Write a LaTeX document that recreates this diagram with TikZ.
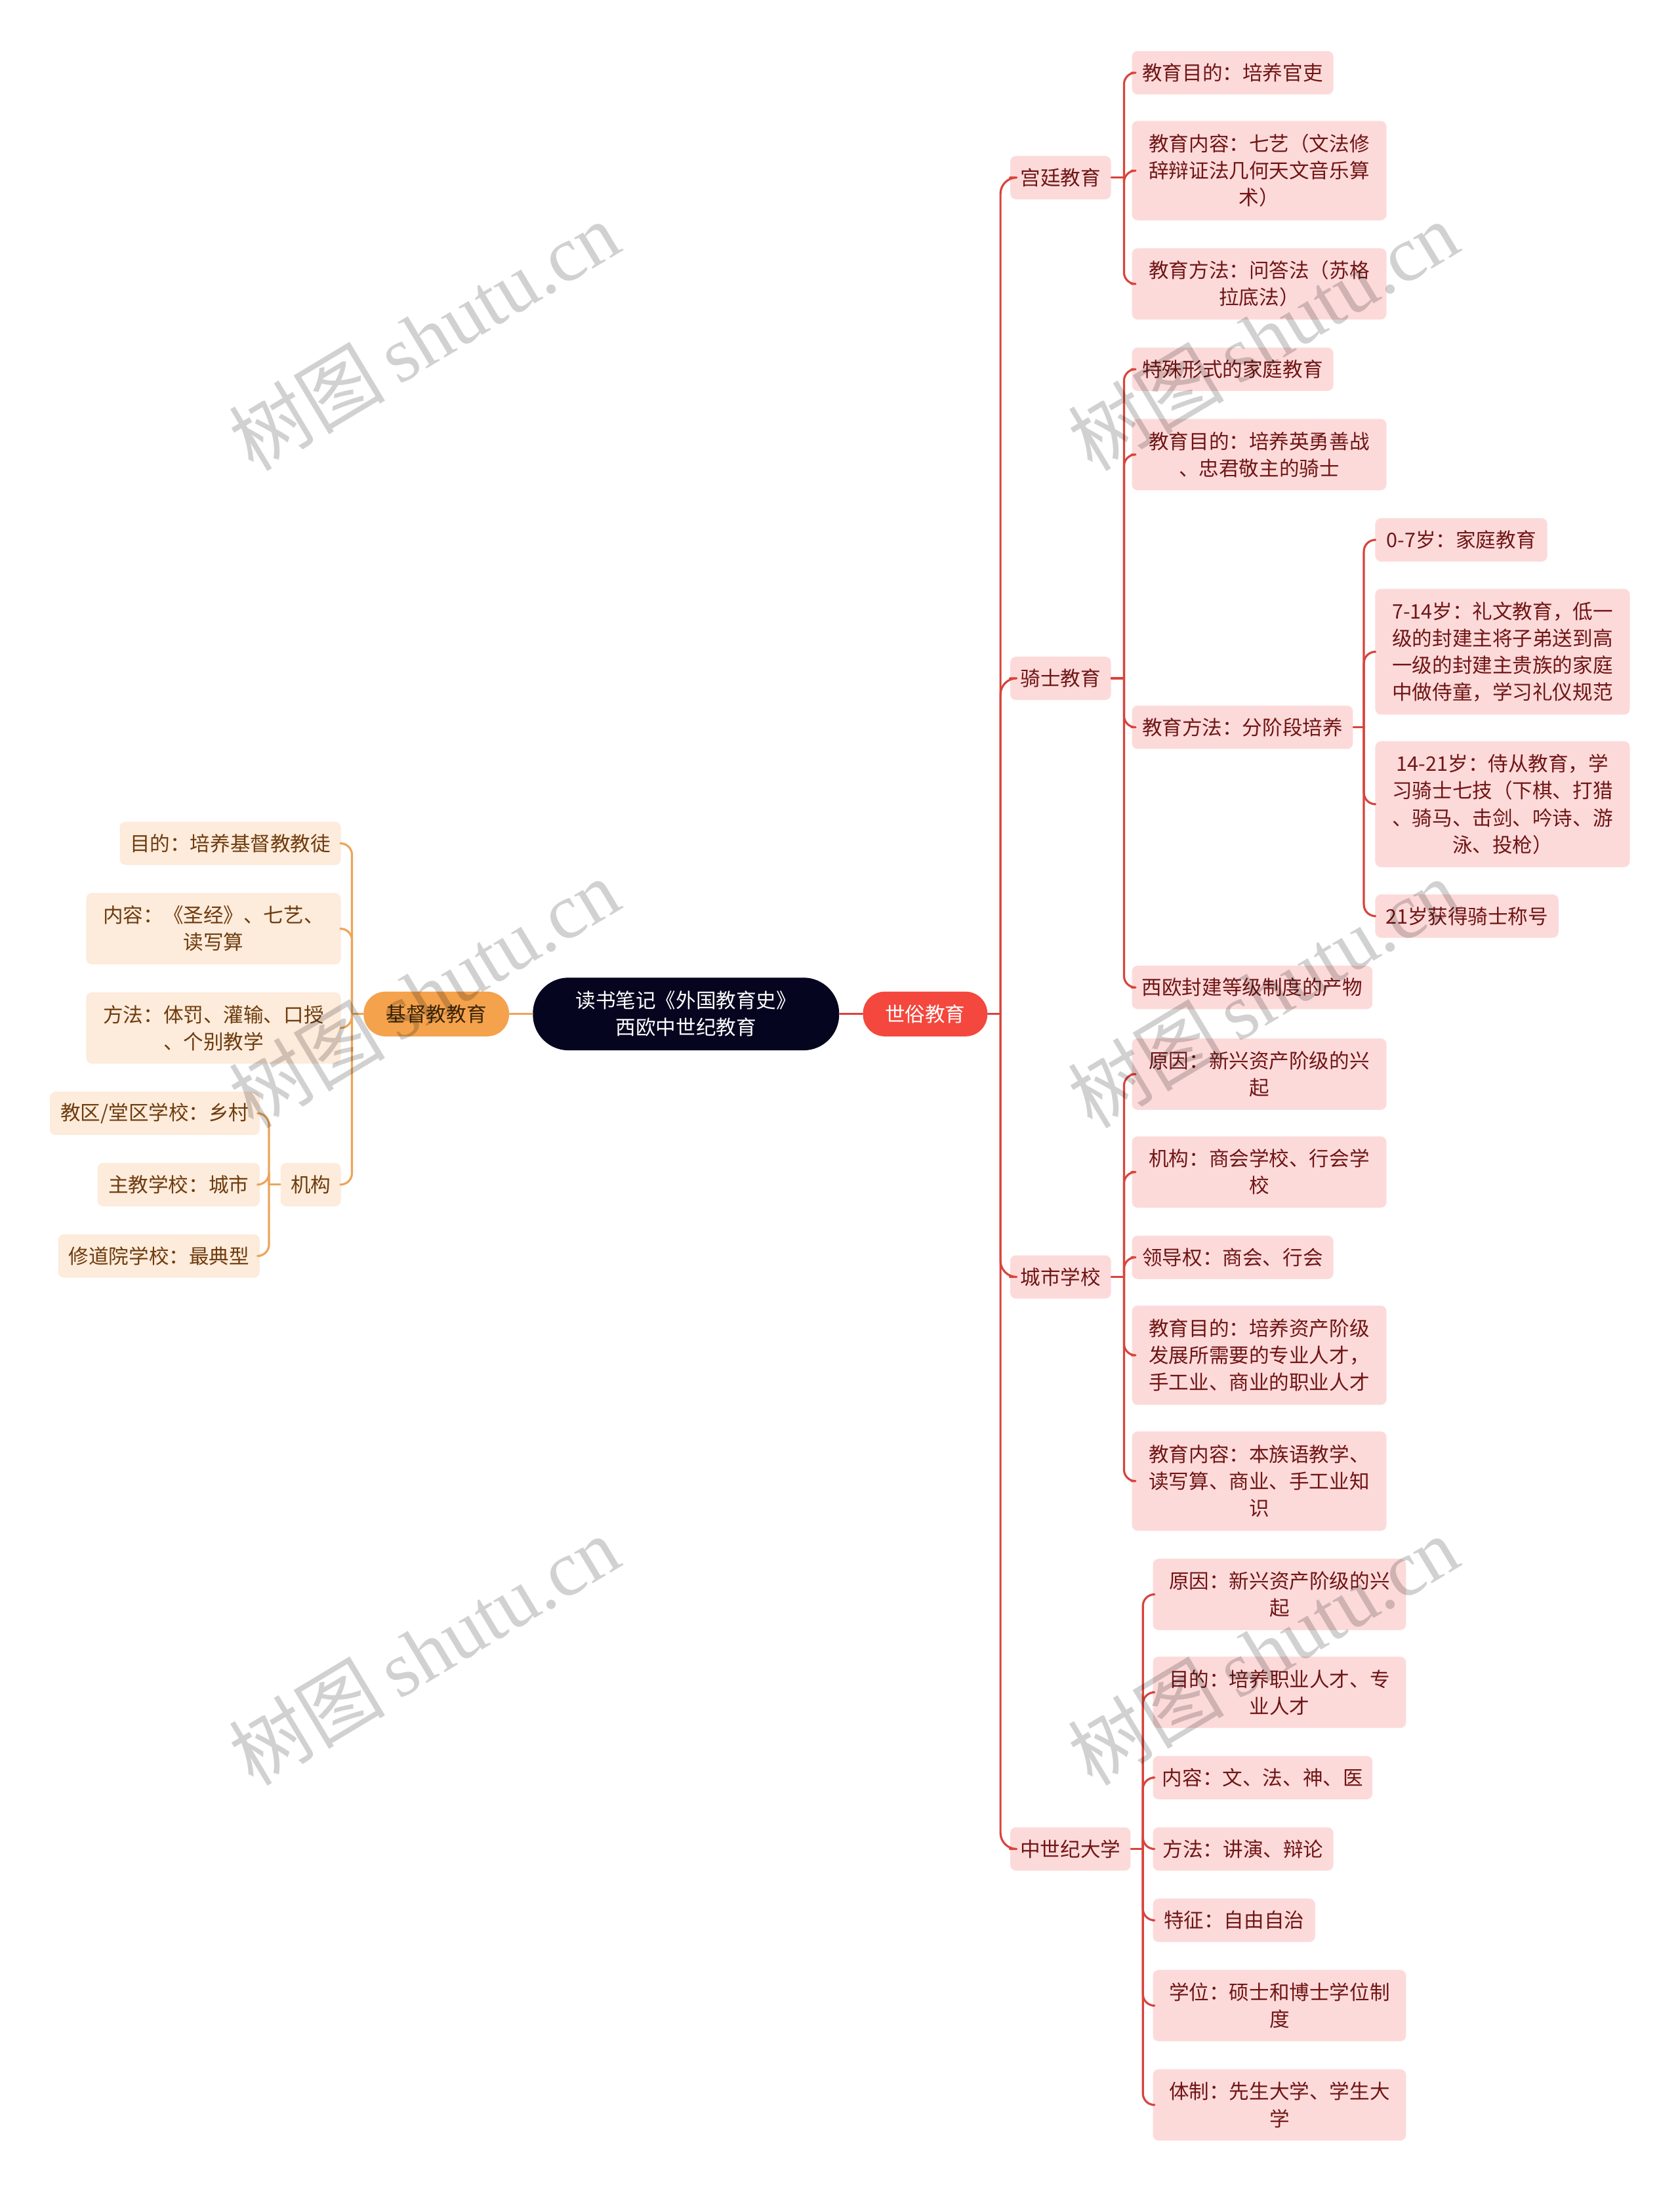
\documentclass[tikz,border=0pt]{standalone}
\usepackage{fontspec}
\setmainfont{Noto Sans CJK SC}
\newfontfamily\wmlatin{Liberation Serif}
\usetikzlibrary{calc}
\definecolor{rootbg}{HTML}{05051F}
\definecolor{secred}{HTML}{F4473D}
\definecolor{linered}{HTML}{D8443C}
\definecolor{leafred}{HTML}{FDDADA}
\definecolor{inkred}{HTML}{701515}
\definecolor{secorange}{HTML}{F4A24C}
\definecolor{inkdark}{HTML}{3B2508}
\definecolor{lineorange}{HTML}{EDA45A}
\definecolor{leafpeach}{HTML}{FDEBDB}
\definecolor{inkbrown}{HTML}{6E3C0E}

\begin{document}
\begin{tikzpicture}[x=0.021316cm,y=-0.021316cm,line cap=round,line join=round,
  font=\fontsize{8.7}{11.7}\selectfont,
  bw/.style={minimum width=#1*0.6065pt},
  bh/.style={minimum height=#1*0.6065pt},
  redleaf/.style={fill=leafred,text=inkred,rounded corners=2.5pt,align=center,inner sep=0pt,anchor=west},
  peachleaf/.style={fill=leafpeach,text=inkbrown,rounded corners=2.5pt,align=center,inner sep=0pt,anchor=east},
  redlink/.style={draw=linered,line width=.9pt,rounded corners=5pt},
  orangelink/.style={draw=lineorange,line width=.9pt,rounded corners=5pt},
  wm/.style={text=black,opacity=.18,rotate=31,font=\fontsize{34}{40}\selectfont}]
  \path[use as bounding box] (0,0) rectangle (1201,1568);
  \fill[white] (0,0) rectangle (1201,1568);
  \clip (0,0) rectangle (1201,1568);

  \node[fill=rootbg,text=white,align=center,inner sep=0pt,bw=219,bh=52,rounded corners=15.5pt] (root) at (490.5,725) {读书笔记《外国教育史》\\西欧中世纪教育};
  \node[fill=secred,text=white,inner sep=0pt,bw=89,bh=32,rounded corners=9.5pt] (sx) at (661.5,725) {世俗教育};
  \node[fill=secorange,text=inkdark,inner sep=0pt,bw=104,bh=32,rounded corners=9.5pt] (jd) at (312,725) {基督教教育};

  % secular branches
  \node[redleaf,bw=72,bh=31] (gt) at (722,127) {宫廷教育};
  \node[redleaf,bw=72,bh=31] (qs) at (722,485) {骑士教育};
  \node[redleaf,bw=72,bh=31] (cs) at (722,913) {城市学校};
  \node[redleaf,bw=86,bh=31] (dx) at (722,1322) {中世纪大学};

  \node[redleaf,bw=144,bh=31] (gt1) at (809,52) {教育目的：培养官吏};
  \node[redleaf,bw=182,bh=71] (gt2) at (809,122) {教育内容：七艺（文法修\\辞辩证法几何天文音乐算\\术）};
  \node[redleaf,bw=182,bh=51] (gt3) at (809,203) {教育方法：问答法（苏格\\拉底法）};

  \node[redleaf,bw=144,bh=31] (qs1) at (809,264) {特殊形式的家庭教育};
  \node[redleaf,bw=182,bh=51] (qs2) at (809,325) {教育目的：培养英勇善战\\、忠君敬主的骑士};
  \node[redleaf,bw=158,bh=31] (qs3) at (809,520) {教育方法：分阶段培养};
  \node[redleaf,bw=172,bh=31] (qs4) at (809,706) {西欧封建等级制度的产物};

  \node[redleaf,bw=123,bh=31] (qf1) at (983,386) {0-7岁：家庭教育};
  \node[redleaf,bw=182,bh=90] (qf2) at (983,466) {7-14岁：礼文教育，低一\\级的封建主将子弟送到高\\一级的封建主贵族的家庭\\中做侍童，学习礼仪规范};
  \node[redleaf,bw=182,bh=90] (qf3) at (983,575) {14-21岁：侍从教育，学\\习骑士七技（下棋、打猎\\、骑马、击剑、吟诗、游\\泳、投枪）};
  \node[redleaf,bw=131,bh=31] (qf4) at (983,655) {21岁获得骑士称号};

  \node[redleaf,bw=182,bh=51] (cs1) at (809,768) {原因：新兴资产阶级的兴\\起};
  \node[redleaf,bw=182,bh=51] (cs2) at (809,838) {机构：商会学校、行会学\\校};
  \node[redleaf,bw=144,bh=31] (cs3) at (809,899) {领导权：商会、行会};
  \node[redleaf,bw=182,bh=71] (cs4) at (809,969) {教育目的：培养资产阶级\\发展所需要的专业人才，\\手工业、商业的职业人才};
  \node[redleaf,bw=182,bh=71] (cs5) at (809,1059) {教育内容：本族语教学、\\读写算、商业、手工业知\\识};

  \node[redleaf,bw=181,bh=51] (dx1) at (824,1140) {原因：新兴资产阶级的兴\\起};
  \node[redleaf,bw=181,bh=51] (dx2) at (824,1210) {目的：培养职业人才、专\\业人才};
  \node[redleaf,bw=157,bh=31] (dx3) at (824,1271) {内容：文、法、神、医};
  \node[redleaf,bw=129,bh=31] (dx4) at (824,1322) {方法：讲演、辩论};
  \node[redleaf,bw=116,bh=31] (dx5) at (824,1373) {特征：自由自治};
  \node[redleaf,bw=181,bh=51] (dx6) at (824,1434) {学位：硕士和博士学位制\\度};
  \node[redleaf,bw=181,bh=51] (dx7) at (824,1505) {体制：先生大学、学生大\\学};

  % christian branches
  \node[peachleaf,bw=158,bh=31] (jd1) at (244,603) {目的：培养基督教教徒};
  \node[peachleaf,bw=182,bh=51] (jd2) at (244,664) {内容：《圣经》、七艺、\\读写算};
  \node[peachleaf,bw=182,bh=51] (jd3) at (244,735) {方法：体罚、灌输、口授\\、个别教学};
  \node[peachleaf,bw=43,bh=31] (jd4) at (244,847) {机构};
  \node[peachleaf,bw=150,bh=31] (jg1) at (186,796) {教区/堂区学校：乡村};
  \node[peachleaf,bw=116,bh=31] (jg2) at (186,847) {主教学校：城市};
  \node[peachleaf,bw=144,bh=31] (jg3) at (186,898) {修道院学校：最典型};

  \draw[redlink] (root.east) -- (sx.west);
  \draw[orangelink] (root.west) -- (jd.east);

  \draw[redlink] (sx.east) -- ++(9,0) coordinate (sxb);
  \foreach \c in {gt,qs,cs,dx} \draw[redlink,rounded corners=7pt] (sxb) |- (\c.west);
  \draw[redlink] (gt.east) -- ++(9,0) coordinate (gtb);
  \foreach \c in {gt1,gt2,gt3} \draw[redlink] (gtb) |- (\c.west);
  \draw[redlink] (qs.east) -- ++(9,0) coordinate (qsb);
  \foreach \c in {qs1,qs2,qs3,qs4} \draw[redlink] (qsb) |- (\c.west);
  \draw[redlink] (qs3.east) -- ++(7.5,0) coordinate (qfb);
  \foreach \c in {qf1,qf2,qf3,qf4} \draw[redlink] (qfb) |- (\c.west);
  \draw[redlink] (cs.east) -- ++(9,0) coordinate (csb);
  \foreach \c in {cs1,cs2,cs3,cs4,cs5} \draw[redlink] (csb) |- (\c.west);
  \draw[redlink] (dx.east) -- ++(8.5,0) coordinate (dxb);
  \foreach \c in {dx1,dx2,dx3,dx4,dx5,dx6,dx7} \draw[redlink] (dxb) |- (\c.west);

  \draw[orangelink] (jd.west) -- ++(-8,0) coordinate (jdb);
  \foreach \c in {jd1,jd2,jd3,jd4} \draw[orangelink] (jdb) |- (\c.east);
  \draw[orangelink] (jd4.west) -- ++(-8,0) coordinate (jgb);
  \foreach \c in {jg1,jg2,jg3} \draw[orangelink] (jgb) |- (\c.east);

  \foreach \wx/\wy [count=\k] in {303/240,303/710,303/1180,903/240,903/710,903/1180}
    \node[wm] (wm\k) at (\wx,\wy) {树图\,{\wmlatin shutu.cn}};
\end{tikzpicture}
\end{document}
